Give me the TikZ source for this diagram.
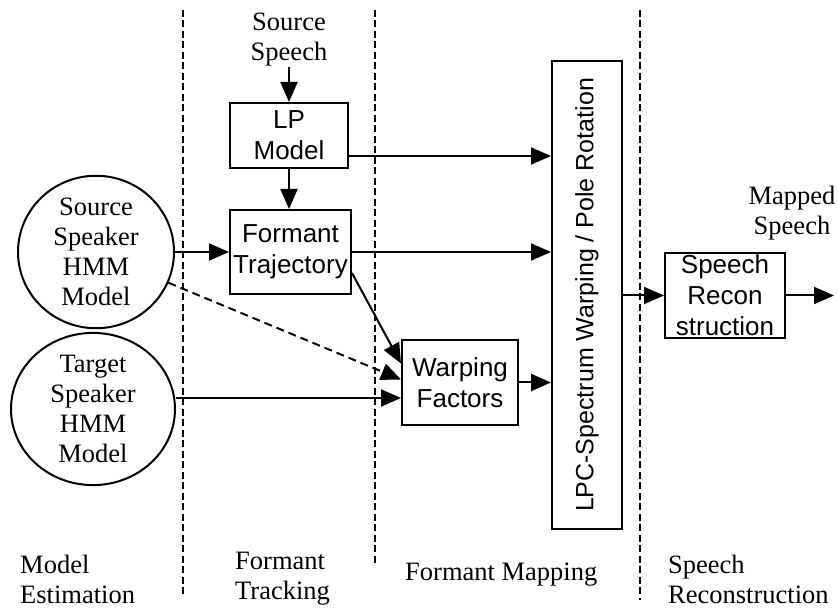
\documentclass[tikz,border=0pt]{standalone}
\usepackage{fontspec}
\setmainfont{Liberation Serif}
\setsansfont{Liberation Sans}
\usetikzlibrary{arrows.meta,shapes.geometric}

\tikzset{
  line/.style={line width=2pt},
  arr/.style={line, -{Triangle[length=20pt,width=17pt]}},
  dasharr/.style={arr, dash pattern=on 8pt off 5pt},
  sep/.style={line width=1.5pt, dash pattern=on 7pt off 3.5pt},
  boxnode/.style={draw, line width=2pt, rectangle, align=center, inner sep=0pt,
    font=\sffamily\fontsize{26}{31}\selectfont},
  hmm/.style={draw, line width=2pt, ellipse, align=center, inner sep=0pt,
    font=\fontsize{26.5}{30}\selectfont},
  lbl/.style={align=center, inner sep=0pt, font=\fontsize{26.5}{30}\selectfont},
  phase/.style={align=left, anchor=west, inner sep=0pt, font=\fontsize{26.5}{30}\selectfont}
}

\begin{document}
\begin{tikzpicture}[x=1pt,y=-1pt]
\useasboundingbox (0,0) rectangle (839,609);

% stage separators
\draw[sep] (183,10) -- (183,598);
\draw[sep] (375,10) -- (375,566);
\draw[sep] (640,10) -- (640,600);

% speaker models
\node[hmm, minimum width=156pt, minimum height=146pt] (src) at (96,252)
  {Source\\Speaker\\HMM\\Model};
\node[hmm, minimum width=164pt, minimum height=148pt] (tgt) at (93,409)
  {Target\\Speaker\\HMM\\Model};

% processing blocks
\node[lbl] (ss) at (289,40) {Source\\Speech};
\node[boxnode, minimum width=118pt, minimum height=65pt] (lp) at (289,135.5) {LP\\Model};
\node[boxnode, minimum width=121pt, minimum height=84pt] (ft) at (290.5,252) {Formant\\Trajectory};
\node[boxnode, minimum width=116pt, minimum height=85pt] (wf) at (460,382.5) {Warping\\Factors};
\node[boxnode, minimum width=70pt, minimum height=468pt] (lpc) at (587,295)
  {\fontsize{25}{30}\selectfont\rotatebox{90}{LPC-Spectrum Warping / Pole Rotation}};
\node[boxnode, minimum width=120pt, minimum height=85pt] (sr) at (725,295.5)
  {Speech\\Recon\\struction};
\node[lbl] (ms) at (792,213) {Mapped\\Speech};
\coordinate (out) at (834,295.5);

% connectors
\draw[arr] (ss.south) -- (lp.north);
\draw[arr] (lp.south) -- (lp.south |- ft.north);
\draw[arr] (src.east) -- (ft.west);
\coordinate (lpo) at ([yshift=13pt]lp.south east);
\draw[arr] (lpo) -- (lpo -| lpc.west);
\draw[arr] (ft.east) -- (ft.east -| lpc.west);
\draw[arr] ([yshift=-21pt]ft.east) -- ([yshift=19pt]wf.west);
\draw[dasharr] (src.-23) -- ([yshift=3pt]wf.west);
\coordinate (tin) at ([yshift=-15.5pt]wf.west);
\draw[arr] (tin -| tgt.east) -- (tin);
\draw[arr] (wf.east) -- (wf.east -| lpc.west);
\draw[arr] (sr.west -| lpc.east) -- (sr.west);
\draw[arr] (sr.east) -- (out);

% stage names
\node[phase] (pe) at (20,579) {Model\\Estimation};
\node[phase] (pt) at (235,579) {Formant\\Tracking};
\node[phase] (pm) at (405,575) {Formant Mapping};
\node[phase] (pr) at (668,579) {Speech\\Reconstruction};
\end{tikzpicture}
\end{document}
